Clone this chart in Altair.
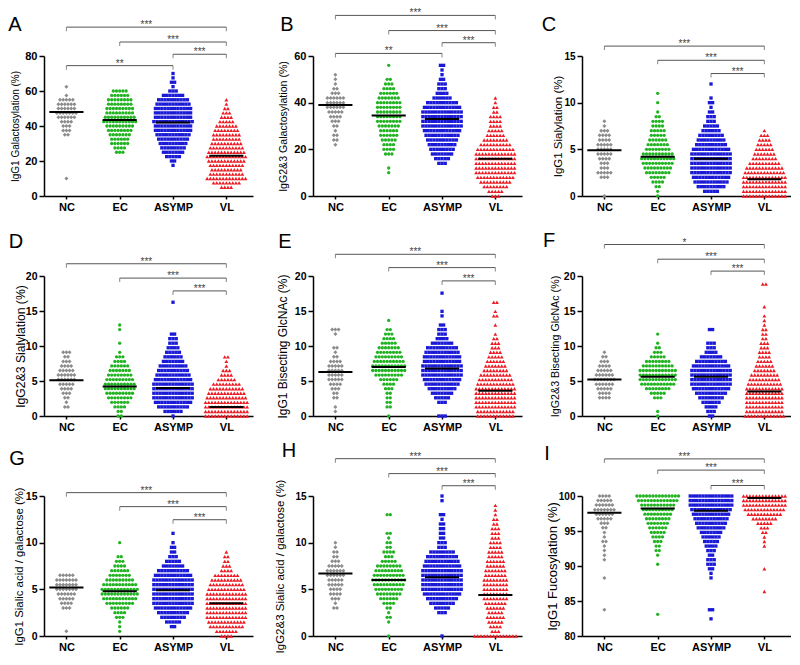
import altair as alt
import pandas as pd

GROUPS = ["NC", "EC", "ASYMP", "VL"]
COLORS = ["#8c8c8c", "#22b322", "#1a1ad6", "#ec1c24"]
SHAPES = ["diamond", "circle", "square", "triangle-up"]
SIZES = [16, 11, 11, 15]

LETTERS = ["A", "B", "C", "D", "E", "F", "G", "H", "I"]
Y_TITLES = [
    "IgG1 Galactosylation (%)",
    "IgG2&3 Galactosylation (%)",
    "IgG1 Sialylation (%)",
    "IgG2&3 Sialylation (%)",
    "IgG1 Bisecting GlcNAc (%)",
    "IgG2&3 Bisecting GlcNAc (%)",
    "IgG1 Sialic acid / galactose (%)",
    "IgG2&3 Sialic acid / galactose (%)",
    "IgG1 Fucosylation (%)",
]
Y_DOMAINS = [[0, 80], [0, 60], [0, 15], [0, 20], [0, 20], [0, 20], [0, 15], [0, 15], [80, 100]]
Y_TICKS = [
    [0, 20, 40, 60, 80], [0, 20, 40, 60], [0, 5, 10, 15],
    [0, 5, 10, 15, 20], [0, 5, 10, 15, 20], [0, 5, 10, 15, 20],
    [0, 5, 10, 15], [0, 5, 10, 15], [80, 85, 90, 95, 100],
]

# Beeswarm rows: value of first row, row step, points per row
ROW_STEPS = [2.5, 2, 0.5, 0.65, 0.65, 0.65, 0.5, 0.5, -0.65]
ROW_STARTS = [
    [10, 25, 17.5, 5], [22, 10, 14, 0], [0, 0, 0.5, 0],
    [1.3, 0, 0, 0], [0.65, 0, 0, 0], [2.6, 0, 0, 0],
    [0.5, 0.5, 1.0, 0], [3.0, 0, 0, 0], [100, 100, 100, 100],
]

A_COUNTS = [
    [1, 0, 0, 0, 0, 0, 0, 0, 0, 0, 2, 3, 3, 4, 6, 7, 6, 6, 5, 1, 0, 1],
    [3, 4, 6, 6, 7, 8, 9, 11, 10, 9, 9, 8, 8, 6, 5],
    [1, 2, 5, 7, 8, 9, 10, 11, 12, 12, 13, 12, 12, 12, 11, 10, 7, 3, 1, 2, 1, 1],
    [4, 9, 13, 11, 10, 11, 12, 13, 12, 11, 10, 9, 9, 8, 7, 5, 4, 3, 2, 1, 1],
]
B_COUNTS = [
    [1, 2, 2, 1, 2, 3, 4, 5, 6, 6, 6, 3, 2, 1, 1, 1],
    [1, 1, 0, 0, 3, 4, 4, 5, 6, 6, 7, 8, 8, 8, 8, 8, 7, 6, 4, 3, 2, 0, 0, 1],
    [3, 5, 7, 8, 9, 10, 11, 12, 13, 13, 13, 13, 12, 10, 6, 4, 3, 3, 2, 1, 1, 2],
    [3, 5, 8, 10, 12, 13, 13, 13, 13, 13, 12, 10, 8, 6, 5, 4, 4, 4, 2, 2, 1, 1],
]
C_COUNTS = [
    [1, 0, 0, 0, 3, 5, 3, 3, 4, 5, 5, 5, 4, 4, 3, 1, 1],
    [1, 1, 2, 4, 5, 8, 9, 10, 11, 10, 8, 7, 6, 5, 5, 4, 4, 2, 1, 0, 1, 0, 1],
    [5, 9, 11, 12, 13, 13, 13, 13, 13, 12, 10, 9, 8, 6, 5, 3, 3, 2, 1, 2, 1, 0, 0, 1],
    [14, 14, 14, 14, 14, 13, 12, 10, 8, 7, 6, 5, 4, 3, 1],
]
D_COUNTS = [
    [2, 1, 2, 3, 4, 5, 6, 6, 5, 4, 3, 2, 3],
    [2, 2, 4, 6, 8, 9, 10, 10, 9, 8, 7, 6, 4, 3, 1, 0, 1, 0, 0, 1, 1],
    [1, 6, 10, 12, 13, 13, 13, 13, 12, 11, 10, 9, 7, 6, 5, 4, 3, 3, 2, 0, 0, 0, 0, 0, 0, 1],
    [14, 14, 14, 14, 13, 12, 11, 9, 6, 4, 3, 1, 1, 2],
]
E_COUNTS = [
    [1, 1, 0, 2, 2, 3, 4, 5, 5, 5, 5, 4, 2, 1, 2, 0, 0, 1, 3],
    [1, 0, 2, 2, 2, 2, 3, 4, 6, 9, 11, 11, 10, 9, 8, 7, 5, 4, 3, 2, 0, 1],
    [3, 0, 0, 3, 5, 7, 9, 11, 12, 13, 13, 13, 12, 12, 11, 10, 7, 4, 3, 3, 2, 0, 1, 1, 0, 0, 0, 1],
    [12, 12, 13, 13, 13, 13, 13, 12, 11, 10, 8, 7, 6, 5, 4, 3, 3, 2, 1, 0, 1, 0, 2, 1, 0, 2],
]
F_COUNTS = [
    [4, 4, 5, 6, 7, 6, 5, 4, 3, 2, 1],
    [1, 1, 0, 0, 3, 5, 8, 11, 12, 12, 12, 10, 8, 5, 3, 2, 1, 0, 1],
    [2, 3, 4, 6, 8, 10, 12, 13, 13, 13, 13, 12, 10, 7, 4, 3, 3, 0, 0, 2],
    [13, 12, 12, 12, 12, 12, 12, 11, 10, 9, 7, 6, 5, 4, 4, 3, 3, 2, 2, 2, 1, 1, 1, 0, 1, 0, 0, 0, 0, 2],
]
G_COUNTS = [
    [1, 0, 0, 0, 0, 3, 4, 5, 6, 7, 7, 7, 5],
    [1, 1, 1, 3, 4, 6, 9, 11, 12, 12, 11, 9, 7, 6, 4, 3, 2, 0, 0, 1],
    [2, 5, 8, 10, 12, 13, 13, 13, 13, 13, 13, 12, 10, 7, 5, 3, 2, 2, 1, 0, 1],
    [4, 7, 11, 12, 13, 13, 13, 13, 13, 13, 12, 11, 10, 8, 4, 3, 2, 2, 1],
]
H_COUNTS = [
    [2, 1, 3, 4, 4, 5, 5, 6, 6, 5, 3, 2, 2, 1, 1],
    [1, 0, 0, 1, 2, 1, 2, 4, 6, 8, 9, 10, 11, 10, 9, 8, 5, 3, 4, 2, 2, 1, 2, 0, 0, 0, 2],
    [1, 0, 0, 0, 0, 3, 5, 8, 10, 12, 13, 13, 13, 13, 13, 12, 11, 10, 8, 3, 3, 2, 2, 2, 2, 1, 2, 0, 0, 1, 1],
    [14, 3, 4, 5, 6, 5, 6, 7, 8, 8, 8, 8, 8, 7, 7, 6, 6, 5, 5, 4, 4, 3, 3, 3, 2, 2, 1, 1, 1],
]
I_COUNTS = [
    [4, 5, 6, 7, 6, 5, 3, 2, 1, 1, 2, 1, 1, 1, 1, 0, 0, 0, 1, 0, 0, 0, 0, 0, 0, 1],
    [14, 13, 11, 10, 9, 8, 7, 6, 5, 4, 3, 2, 2, 1, 0, 1, 0, 0, 0, 0, 0, 0, 0, 0, 0, 0, 1],
    [14, 14, 14, 13, 12, 11, 10, 9, 7, 6, 5, 4, 3, 2, 3, 3, 2, 1, 1, 0, 0, 0, 0, 0, 0, 2, 0, 1],
    [14, 14, 14, 13, 11, 8, 5, 3, 2, 1, 1, 1, 0, 0, 0, 0, 1, 0, 0, 0, 0, 1],
]
COUNTS = [A_COUNTS, B_COUNTS, C_COUNTS, D_COUNTS, E_COUNTS, F_COUNTS, G_COUNTS, H_COUNTS, I_COUNTS]

MEDIANS = [
    [48, 43.5, 42, 23], [39, 34.5, 33, 16], [4.9, 4.2, 4.0, 1.8],
    [5.1, 4.2, 4.0, 1.3], [6.3, 7.0, 6.8, 3.6], [5.2, 5.6, 5.6, 3.5],
    [5.2, 4.8, 4.9, 3.5], [6.7, 6.0, 6.3, 4.4], [97.6, 98.2, 97.9, 99.7],
]

# significance brackets: (from group, to group, level in axis units, label)
BRACKETS = [
    [(0, 3, 96.5, "***"), (1, 3, 88, "***"), (2, 3, 81, "***"), (0, 2, 74.5, "**")],
    [(0, 3, 77.4, "***"), (1, 3, 70.9, "***"), (2, 3, 65.7, "***"), (0, 2, 61.1, "**")],
    [(0, 3, 16.06, "***"), (1, 3, 14.54, "***"), (2, 3, 13.12, "***")],
    [(0, 3, 21.75, "***"), (1, 3, 19.7, "***"), (2, 3, 17.87, "***")],
    [(0, 3, 23.1, "***"), (1, 3, 21.2, "***"), (2, 3, 19.3, "***")],
    [(0, 3, 24.5, "*"), (1, 3, 22.4, "***"), (2, 3, 20.7, "***")],
    [(0, 3, 15.36, "***"), (1, 3, 13.86, "***"), (2, 3, 12.46, "***")],
    [(0, 3, 19.0, "***"), (1, 3, 17.4, "***"), (2, 3, 16.1, "***")],
    [(0, 3, 105.3, "***"), (1, 3, 103.7, "***"), (2, 3, 101.5, "***")],
]

# styling
LETTER_POS = [(-29, -31), (-26, -31), (-33, -31), (-28, -34), (-28, -34), (-33, -35), (-27, -37), (-24, -45), (-35, -42)]
TITLE_OFF = [29, 30, 24, 24, 31, 27, 25, 33, 30]
TITLE_SIZE = [10, 10.6, 11.5, 12.2, 12, 10.7, 11.4, 11.5, 13]
YLABEL_SIZE = [11, 11, 10, 10.5, 10.5, 10.5, 10.5, 10, 10]
W, H = 209, 140
X_DOMAIN = [-0.42, 3.5]
DX = 0.06
HALF = 0.32
FONT = "Liberation Sans"


def panel(i):
    pts = []
    for g in range(4):
        for k, n in enumerate(COUNTS[i][g]):
            y = ROW_STARTS[i][g] + k * ROW_STEPS[i]
            for j in range(n):
                pts.append({"group": GROUPS[g], "pos": g + (j - (n - 1) / 2) * DX, "value": round(y, 3)})
    pts = pd.DataFrame(pts)

    xs = alt.Scale(domain=X_DOMAIN, nice=False, zero=False)
    ys = alt.Scale(domain=Y_DOMAINS[i], nice=False, zero=False)
    xaxis = alt.Axis(values=[0, 1, 2, 3], labelExpr="['NC','EC','ASYMP','VL'][datum.value]",
                     title=None, grid=False, tickSize=3, labelPadding=2)
    yaxis = alt.Axis(values=Y_TICKS[i], title=Y_TITLES[i], grid=False, tickSize=5, labelPadding=2,
                     labelFontSize=YLABEL_SIZE[i], titleFontSize=TITLE_SIZE[i],
                     titleX=-TITLE_OFF[i], titleBaseline="middle")

    def X(f):
        return alt.X(f, scale=xs, axis=xaxis)

    def Y(f):
        return alt.Y(f, scale=ys, axis=yaxis)

    layers = []
    for g in range(4):
        d = pts[pts["group"] == GROUPS[g]]
        layers.append(
            alt.Chart(d).mark_point(filled=True, shape=SHAPES[g], size=SIZES[g], color=COLORS[g], opacity=1)
            .encode(x=X("pos:Q"), y=Y("value:Q"))
        )

    med = pd.DataFrame({"group": GROUPS, "lo": [g - HALF for g in range(4)],
                        "hi": [g + HALF for g in range(4)], "med": MEDIANS[i]})
    layers.append(alt.Chart(med).mark_rule(color="black", strokeWidth=2)
                  .encode(x=X("lo:Q"), x2="hi:Q", y=Y("med:Q")))

    br = pd.DataFrame([{"x1": a, "x2": b, "xm": (a + b) / 2, "lvl": l, "lab": t} for a, b, l, t in BRACKETS[i]])
    ends = pd.DataFrame([{"x": xx, "lvl": l} for a, b, l, t in BRACKETS[i] for xx in (a, b)])
    layers.append(alt.Chart(br).mark_rule(color="#555555", strokeWidth=1)
                  .encode(x=X("x1:Q"), x2="x2:Q", y=Y("lvl:Q")))
    layers.append(alt.Chart(ends).mark_tick(color="#555555", orient="vertical", size=4, thickness=1, yOffset=2)
                  .encode(x=X("x:Q"), y=Y("lvl:Q")))
    layers.append(alt.Chart(br).mark_text(font=FONT, fontSize=10, color="#444444", baseline="alphabetic", dy=1)
                  .encode(x=X("xm:Q"), y=Y("lvl:Q"), text="lab:N"))

    lt = pd.DataFrame({"t": [LETTERS[i]]})
    layers.append(alt.Chart(lt).mark_text(font=FONT, fontSize=20, color="black", baseline="middle", align="center")
                  .encode(x=alt.value(LETTER_POS[i][0]), y=alt.value(LETTER_POS[i][1]), text="t:N"))

    return alt.layer(*layers).properties(width=W, height=H)


chart = alt.concat(*[panel(i) for i in range(9)], columns=3,
                   spacing={"row": 80, "column": 60}, bounds="flush").properties(
    padding=0
).configure_view(stroke=None).configure_axis(
    domainColor="black", domainWidth=1.5, tickColor="black", tickWidth=1.5,
    labelFont=FONT, labelFontWeight="bold", labelFontSize=11, labelColor="black",
    titleFont=FONT, titleFontWeight="normal", titleColor="black",
).configure_tick(bandSize=4)

chart.save("out.html", embed_options={"renderer": "svg", "actions": False})
